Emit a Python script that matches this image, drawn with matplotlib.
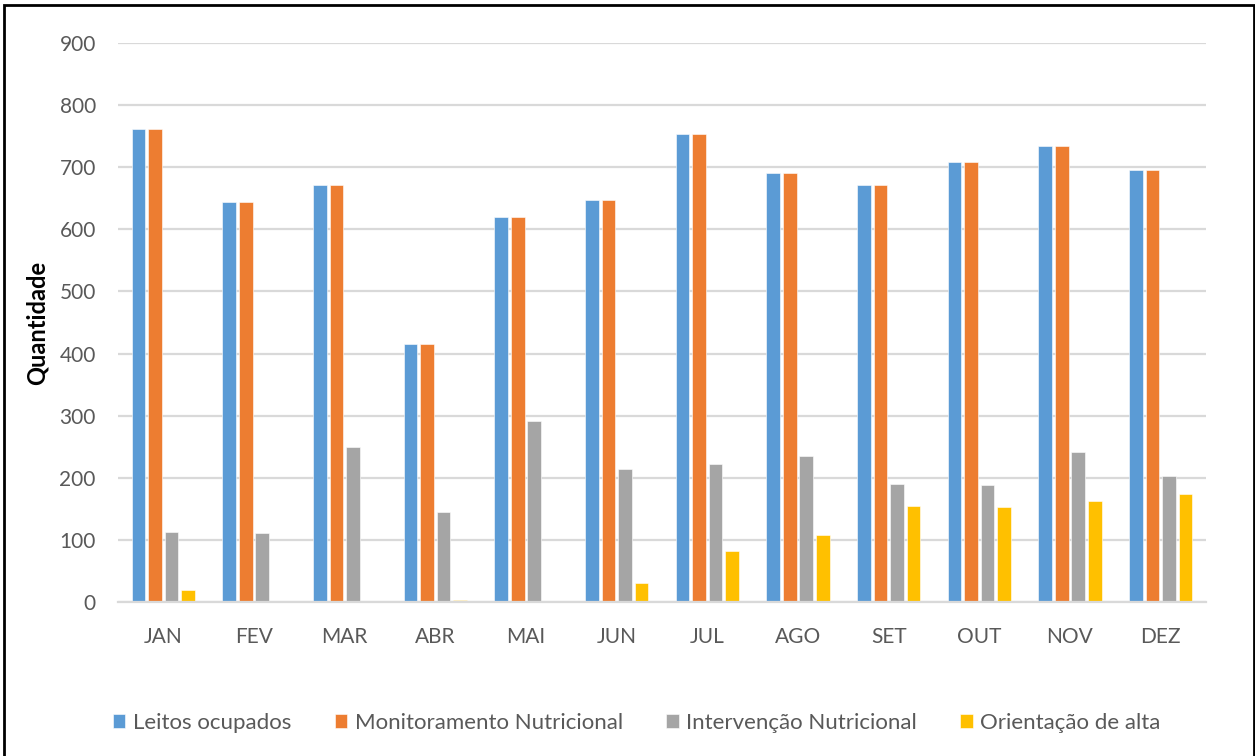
import numpy as np
import matplotlib
matplotlib.use("Agg")
import matplotlib.pyplot as plt
from matplotlib.patches import Rectangle

# data
meses = ["JAN", "FEV", "MAR", "ABR", "MAI", "JUN", "JUL", "AGO", "SET", "OUT", "NOV", "DEZ"]
leitos_ocupados = [762, 644, 671, 416, 620, 647, 754, 690, 671, 709, 734, 696]
monitoramento = [762, 644, 671, 416, 620, 647, 754, 690, 671, 709, 734, 696]
intervencao = [113, 111, 250, 145, 292, 214, 222, 235, 190, 189, 241, 203]
orientacao_alta = [19, 0, 0, 3, 0, 30, 82, 108, 154, 153, 163, 174]
series_names = ["Leitos ocupados", "Monitoramento Nutricional",
                "Intervenção Nutricional", "Orientação de alta"]
y_ticks = [0, 100, 200, 300, 400, 500, 600, 700, 800, 900]

colors = ["#5B9BD5", "#ED7D31", "#A5A5A5", "#FFC000"]
text_color = "#595959"

plt.rcParams['font.family'] = ['Lato', 'DejaVu Sans']

fig = plt.figure(figsize=(12.55, 7.56), dpi=100)
ax = fig.add_axes([118 / 1255, 1 - 602 / 756, (1206 - 118) / 1255, (602 - 43) / 756])

x = np.arange(len(meses))
step = 0.182
width = 0.15
all_series = [leitos_ocupados, monitoramento, intervencao, orientacao_alta]
for i, (vals, name) in enumerate(zip(all_series, series_names)):
  offset = (i - 1.5) * step
  ax.bar(x + offset, vals, width=width, color=colors[i], label=name,
         edgecolor="white", linewidth=0.4, zorder=3)

ax.set_xlim(-0.5, len(meses) - 0.5)
ax.set_ylim(0, 900)
ax.set_yticks(y_ticks)
ax.set_xticks(x)
ax.set_xticklabels(meses)

ax.grid(axis="y", color="#D9D9D9", linewidth=1.6, zorder=0)
for side in ["top", "right", "left"]:
  ax.spines[side].set_visible(False)
ax.spines["bottom"].set_color("#D9D9D9")
ax.spines["bottom"].set_linewidth(1.6)
ax.spines["bottom"].set_zorder(4)

ax.tick_params(axis="both", length=0, labelsize=15, labelcolor=text_color)
ax.tick_params(axis="x", pad=18)
ax.tick_params(axis="y", pad=16)

ax.set_ylabel("Quantidade", fontsize=17, fontweight="bold", color="black", labelpad=8)

fig.legend(loc="center", bbox_to_anchor=(637 / 1255, 1 - 723 / 756), ncol=4,
           frameon=False, fontsize=16, handlelength=0.55, handleheight=0.55,
           handletextpad=0.35, columnspacing=1.95, labelcolor=text_color)

# outer frame of the original figure
fig.add_artist(Rectangle((4 / 1255, -0.02), 1250 / 1255, 1.02 - 5 / 756,
                         transform=fig.transFigure, fill=False,
                         edgecolor="black", linewidth=2))

fig.savefig("out.png", dpi=100)
